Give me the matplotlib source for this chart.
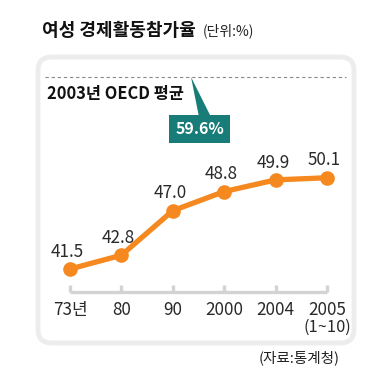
import matplotlib.pyplot as plt
from matplotlib.patches import FancyBboxPatch, Polygon, Rectangle

plt.rcParams['font.family'] = ['Noto Sans CJK KR', 'DejaVu Sans']

# --- data ---
years = ['73년', '80', '90', '2000', '2004', '2005']
year_notes = ['', '', '', '', '', '(1~10)']
rates = [41.5, 42.8, 47.0, 48.8, 49.9, 50.1]
oecd_avg = 59.6

ORANGE = '#f5881f'
TEAL = '#187c78'
W = H = 390


def fx(x):
    return x / W


def fy(y):
    return 1 - y / H


fig = plt.figure(figsize=(3.9, 3.9), dpi=100)
fig.patch.set_facecolor('white')

# rounded frame (drawn beneath the axes)
frame = FancyBboxPatch((fx(38), fy(343)), fx(354) - fx(38), fy(57) - fy(343),
                       boxstyle='round,pad=0,rounding_size=0.035',
                       transform=fig.transFigure, facecolor='white',
                       edgecolor='#ededed', linewidth=3.5, zorder=-5)
fig.patches.append(frame)

# axes covering the whole figure, scaled so points land where they should
ax = fig.add_axes([0, 0, 1, 1], zorder=1)
ax.set_xlim(-1.362, 6.226)
ax.set_ylim(30.1, 66.85)
ax.axis('off')
ax.patch.set_alpha(0)

x = list(range(len(years)))

# OECD dashed line
ax.axhline(oecd_avg, xmin=fx(45), xmax=fx(346), color='#8a8a8a',
           linestyle=(0, (3, 2.5)), linewidth=0.8)

# baseline with ticks
base_y = 39.3
ax.plot([x[0], x[-1]], [base_y, base_y], color='#d3d3d3', linewidth=2.4,
        solid_capstyle='butt', zorder=1)
ax.vlines(x, base_y, base_y + 0.65, color='#d3d3d3', linewidth=2.4, zorder=1)

# line + markers
ax.plot(x, rates, color=ORANGE, linewidth=3.8, marker='o', markersize=9.5,
        solid_capstyle='round', zorder=3)

for xi, v in zip(x, rates):
    ax.annotate(f'{v:.1f}', (xi, v), xytext=(-2, 12.5), textcoords='offset points',
                ha='center', va='center', fontsize=12.3, color='#2a2a2a')

for xi, lab, note in zip(x, years, year_notes):
    ax.annotate(lab, (xi, base_y), xytext=(0, -12.5), textcoords='offset points',
                ha='center', va='center', fontsize=12.3, color='#2a2a2a')
    if note:
        ax.annotate(note, (xi, base_y), xytext=(0, -25.5), textcoords='offset points',
                    ha='center', va='center', fontsize=11.8, color='#2a2a2a')

# callout box for OECD value
ax.add_patch(Polygon([(fx(191), fy(77)), (fx(199), fy(117)), (fx(211), fy(117))],
                     closed=True, transform=fig.transFigure, facecolor=TEAL,
                     edgecolor='none', zorder=4))
ax.add_patch(Rectangle((fx(169), fy(143)), fx(230) - fx(169), fy(115) - fy(143),
                       transform=fig.transFigure, facecolor=TEAL,
                       edgecolor='none', zorder=4))
ax.text(fx(199.5), fy(129.5), f'{oecd_avg}%', transform=fig.transFigure,
        ha='center', va='center', color='white', fontsize=11.5,
        fontweight='bold', zorder=5)

# texts
fig.text(fx(42), fy(30), '여성 경제활동참가율', ha='left', va='center',
         fontsize=13, fontweight='bold', color='#111111')
fig.text(fx(203), fy(31), '(단위:%)', ha='left', va='center',
         fontsize=10, color='#222222')
fig.text(fx(47), fy(94), '2003년 OECD 평균', ha='left', va='center',
         fontsize=11.8, fontweight='bold', color='#111111')
fig.text(fx(340), fy(358), '(자료:통계청)', ha='right', va='center',
         fontsize=10.5, color='#222222')

fig.savefig('out.png', dpi=100)
